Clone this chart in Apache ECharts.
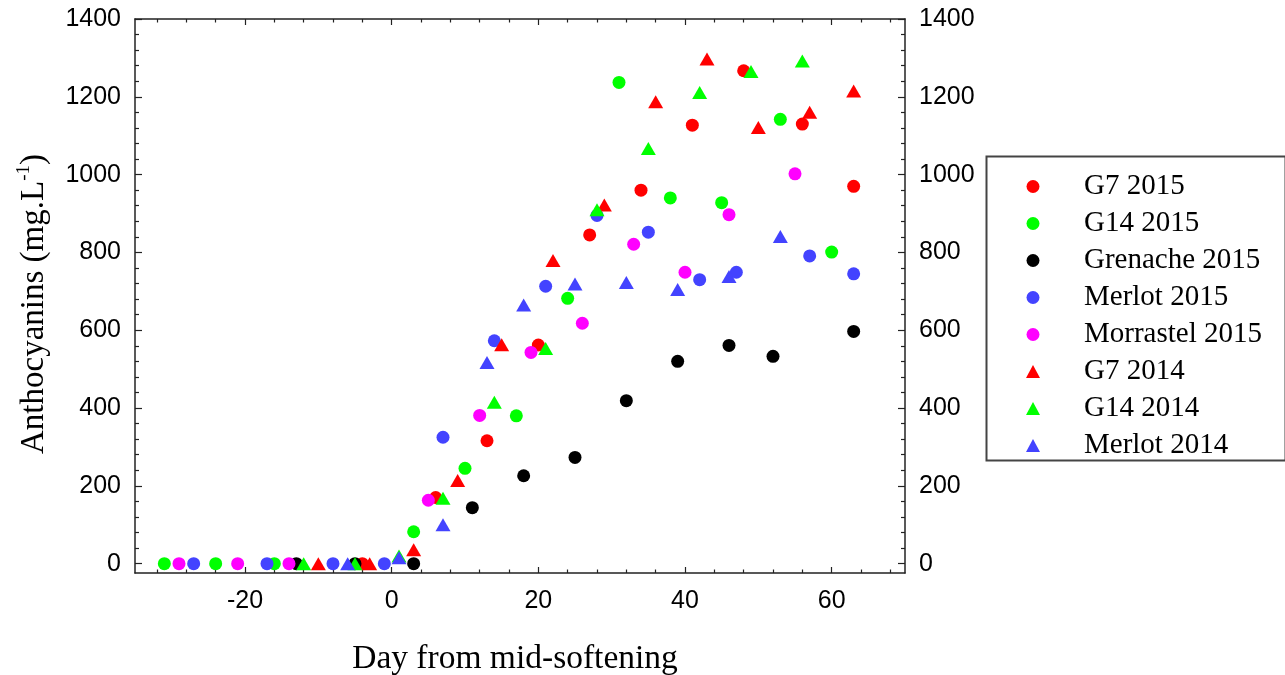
<!DOCTYPE html>
<html>
<head>
<meta charset="utf-8">
<script src="https://cdn.jsdelivr.net/npm/echarts@6/dist/echarts.min.js"></script>
<style>html,body{margin:0;padding:0;background:#fff}#c{width:1285px;height:675px}</style>
</head>
<body>
<div id="c"></div>
<script>
// ---- data: [day from mid-softening, anthocyanins mg/L] ----
const G7_2015 = [[-4,0],[6,170],[13,316],[20,562],[27,845],[34,960],[41,1127],[48,1267],[56,1130],[63,970]];
const G14_2015 = [[-31,0],[-24,0],[-16,0],[3,82],[10,245],[17,380],[24,682],[31,1237],[38,940],[45,928],[53,1142],[60,801]];
const GRENACHE_2015 = [[-13,0],[-5,0],[3,0],[11,144],[18,226],[25,273],[32,419],[39,520],[46,561],[52,533],[63,597]];
const MERLOT_2015 = [[-27,0],[-17,0],[-8,0],[-1,0],[7,325],[14,573],[21,713],[28,895],[35,852],[42,730],[47,749],[57,791],[63,745]];
const MORRASTEL_2015 = [[-29,0],[-21,0],[-14,0],[5,163],[12,381],[19,543],[26,618],[33,821],[40,749],[46,897],[55,1002]];
const G7_2014 = [[-10,0],[-3,0],[3,36],[9,214],[15,563],[22,779],[29,922],[36,1187],[43,1297],[50,1121],[57,1160],[63,1215]];
const G14_2014 = [[-12,0],[-5,0],[1,20],[7,168],[14,415],[21,553],[28,910],[35,1067],[42,1211],[49,1265],[56,1292]];
const MERLOT_2014 = [[-6,0],[1,15],[7,100],[13,517],[18,665],[25,719],[32,723],[39,705],[46,738],[53,841]];

const seriesNames = ['G7 2015','G14 2015','Grenache 2015','Merlot 2015','Morrastel 2015','G7 2014','G14 2014','Merlot 2014'];
const seriesData = [G7_2015, G14_2015, GRENACHE_2015, MERLOT_2015, MORRASTEL_2015, G7_2014, G14_2014, MERLOT_2014];
const seriesColors = ['#ff0000','#00ff00','#000000','#4343ff','#ff00ff','#ff0000','#00ff00','#4343ff'];
const seriesSymbols = ['circle','circle','circle','circle','circle','triangle','triangle','triangle'];

// ---- tick values ----
const xLabelValues = [-20, 0, 20, 40, 60];
const xMinorValues = [-32,-28,-24,-16,-12,-8,-4,4,8,12,16,24,28,32,36,44,48,52,56,64,68];
const yLabelValues = [0, 200, 400, 600, 800, 1000, 1200, 1400];
const yMinorValues = [40,80,120,160,240,280,320,360,440,480,520,560,640,680,720,760,840,880,920,960,1040,1080,1120,1160,1240,1280,1320,1360];

const X_MIN = -35, X_MAX = 70, Y_MIN = -24, Y_MAX = 1400;
const AX = '#222';
const SANS = 'Liberation Sans';
const SERIF = 'Liberation Serif';
const plain = v => String(v);

function xAxis(pos, vals, len, labels, line) {
  return {
    type: 'value', position: pos, min: X_MIN, max: X_MAX,
    axisLine: { show: line, onZero: false, lineStyle: { color: AX, width: 1.5 } },
    axisTick: { show: true, inside: true, length: len, customValues: vals, lineStyle: { color: AX, width: 1.2 } },
    axisLabel: { show: labels, customValues: vals, formatter: plain, margin: 16, fontFamily: SANS, fontSize: 25, color: '#000' },
    splitLine: { show: false }
  };
}
function yAxis(pos, vals, len, labels, line) {
  return {
    type: 'value', position: pos, min: Y_MIN, max: Y_MAX,
    axisLine: { show: line, onZero: false, lineStyle: { color: AX, width: 1.5 } },
    axisTick: { show: true, inside: true, length: len, customValues: vals, lineStyle: { color: AX, width: 1.2 } },
    axisLabel: { show: labels, customValues: vals, formatter: plain, margin: 14, fontFamily: SANS, fontSize: 25, color: '#000' },
    splitLine: { show: false }
  };
}

const xAxes = [
  xAxis('bottom', xLabelValues, 6, true, true),
  xAxis('bottom', xMinorValues, 3.5, false, false),
  xAxis('top', xLabelValues, 6, false, true),
  xAxis('top', xMinorValues, 3.5, false, false)
];
xAxes[0].name = 'Day from mid-softening';
xAxes[0].nameLocation = 'middle';
xAxes[0].nameGap = 69;
xAxes[0].nameTextStyle = { fontFamily: SERIF, fontSize: 33.5, color: '#000', padding: [0, 10, 0, 0] };

const yAxes = [
  yAxis('left', yLabelValues, 7, true, true),
  yAxis('left', yMinorValues, 4, false, false),
  yAxis('right', yLabelValues, 7, true, true),
  yAxis('right', yMinorValues, 4, false, false)
];
yAxes[0].name = '{t|Anthocyanins (mg.L}{s|-1}{t|)}';
yAxes[0].nameLocation = 'middle';
yAxes[0].nameRotate = 90;
yAxes[0].nameGap = 82;
yAxes[0].nameTextStyle = {
  padding: [0, 16, 0, 0],
  rich: {
    t: { fontFamily: SERIF, fontSize: 33, color: '#000', lineHeight: 38 },
    s: { fontFamily: SERIF, fontSize: 19, color: '#000', verticalAlign: 'top' }
  }
};

const series = seriesNames.map((n, i) => ({
  name: n, type: 'scatter', xAxisIndex: 0, yAxisIndex: 0,
  data: seriesData[i],
  symbol: seriesSymbols[i],
  symbolSize: seriesSymbols[i] === 'circle' ? 13 : [15, 13],
  itemStyle: { color: seriesColors[i], opacity: 1 },
  emphasis: { disabled: true },
  silent: true
}));

const chart = echarts.init(document.getElementById('c'), null, { renderer: 'canvas' });
chart.setOption({
  animation: false,
  backgroundColor: '#fff',
  grid: { left: 135, right: 380, top: 19, bottom: 102, outerBoundsMode: 'none', containLabel: false },
  xAxis: xAxes,
  yAxis: yAxes,
  legend: {
    orient: 'vertical', left: 1026, top: 172, padding: 0,
    itemWidth: 14, itemHeight: 13, itemGap: 8,
    data: seriesNames,
    selectedMode: false,
    textStyle: { fontFamily: SERIF, fontSize: 29, color: '#000', lineHeight: 26, padding: [0, 0, 0, 39] }
  },
  graphic: [{
    type: 'rect', left: 984, top: 154, silent: true,
    shape: { width: 299, height: 304 },
    style: { fill: 'none', stroke: '#444', lineWidth: 2 }
  }],
  series: series
});
</script>
</body>
</html>
